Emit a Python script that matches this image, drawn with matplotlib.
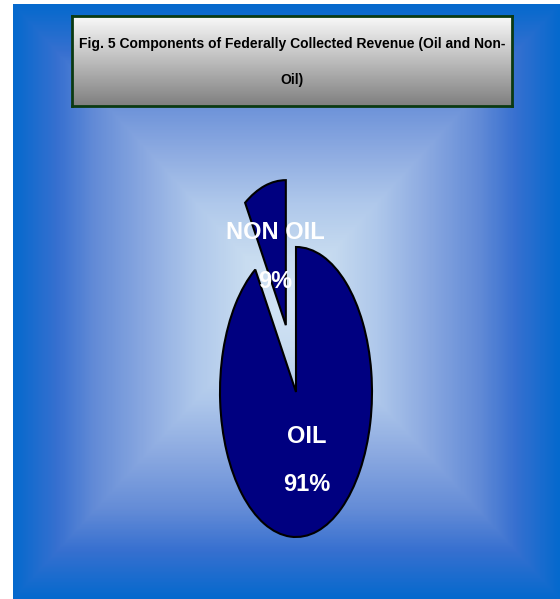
import numpy as np
import matplotlib
matplotlib.use("Agg")
import matplotlib.pyplot as plt
from matplotlib.colors import LinearSegmentedColormap

# Datos del gráfico
categorias = ["NON OIL", "OIL"]
porcentajes = [9, 91]
titulo = "Fig. 5 Components of Federally Collected Revenue (Oil and Non-\nOil)"

fuente = ["Liberation Sans", "DejaVu Sans"]

W, H = 560, 599
fig = plt.figure(figsize=(W / 100, H / 100), dpi=100, facecolor="white")


def caja(x0, y0, x1, y1):
    # coordenadas en pixeles (origen arriba a la izquierda) -> fracción de figura
    return [x0 / W, 1 - y1 / H, (x1 - x0) / W, (y1 - y0) / H]


# Fondo azul con degradado rectangular
ax_bg = fig.add_axes(caja(13, 4, 560, 599))
ax_bg.set_axis_off()
u = np.linspace(-1, 1, 547)
v = np.linspace(-1, 1, 595)
U, V = np.meshgrid(u, v)
t = np.maximum(np.abs(U), np.abs(V))
paradas = [(0.0, (210, 228, 246)), (0.15, (200, 220, 240)), (0.33, (175, 200, 235)),
           (0.51, (140, 170, 225)), (0.7, (100, 140, 215)), (0.84, (55, 112, 208)),
           (1.0, (5, 105, 205))]
cmap_bg = LinearSegmentedColormap.from_list(
    "fondo", [(p, tuple(c / 255 for c in col)) for p, col in paradas])
ax_bg.imshow(t, cmap=cmap_bg, aspect="auto", extent=(0, 1, 0, 1), vmin=0, vmax=1)

# Caja del título con degradado gris
ax_t = fig.add_axes(caja(72, 16, 512, 106))
g = np.linspace(0.98, 0.5, 100).reshape(-1, 1)
ax_t.imshow(g, cmap="gray", vmin=0, vmax=1, aspect="auto", extent=(0, 1, 0, 1))
ax_t.set_xticks([])
ax_t.set_yticks([])
for s in ax_t.spines.values():
    s.set_color("#0b3a12")
    s.set_linewidth(2)
ax_t.text(0.5, 0.49, titulo, ha="center", va="center", fontsize=10, fontweight="bold",
          family=fuente, linespacing=3.0, color="black", transform=ax_t.transAxes)

# Pastel (elíptico)
ax_p = fig.add_axes(caja(296 - 76 * 1.6, 392 - 145 * 1.6, 296 + 76 * 1.6, 392 + 145 * 1.6))
etiquetas = [f"{c}\n{p}%" for c, p in zip(categorias, porcentajes)]
wedges, textos = ax_p.pie(porcentajes, labels=etiquetas, startangle=90, counterclock=True,
                          explode=[0.48, 0], colors=["#000080", "#000080"],
                          wedgeprops=dict(edgecolor="black", linewidth=1.5),
                          labeldistance=0.49,
                          textprops=dict(color="white", fontsize=17, fontweight="bold",
                                         family=fuente, linespacing=2.4))
for tx in textos:
    tx.set_ha("center")
    tx.set_va("center")
ax_p.set_aspect("auto")
ax_p.set_xlim(-1.6, 1.6)
ax_p.set_ylim(-1.6, 1.6)
ax_p.set_axis_off()

fig.savefig("out.png", dpi=100, facecolor="white")
